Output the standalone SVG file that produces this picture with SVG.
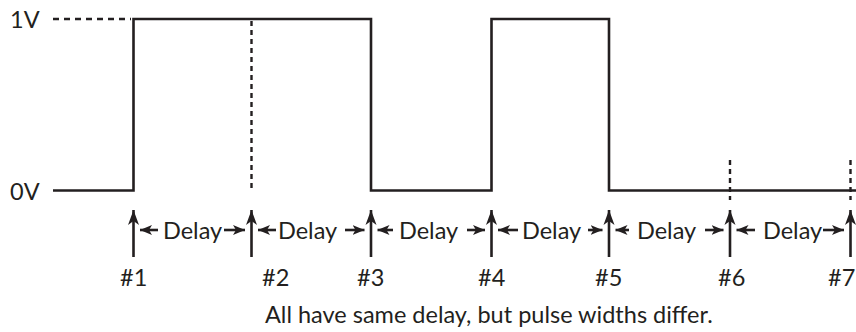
<svg xmlns="http://www.w3.org/2000/svg" width="856" height="332" viewBox="0 0 856 332">
<defs>
<style>
.t{font-family:Lato,"Open Sans","DejaVu Sans",sans-serif;font-size:23.5px;fill:#231f20}
.w{fill:none;stroke:#231f20;stroke-width:2.6}
.d{fill:none;stroke:#231f20;stroke-width:2.4;stroke-dasharray:5 4}
.a{fill:none;stroke:#231f20;stroke-width:2.6}
</style>
<marker id="ah" viewBox="-15 -6 15 12" refX="0" refY="0" markerWidth="15" markerHeight="12" markerUnits="userSpaceOnUse" orient="auto">
<path d="M0,0 L-15,-5.5 L-11,0 L-15,5.5 Z" fill="#231f20"/>
</marker>
<marker id="ahs" viewBox="-12 -5 12 10" refX="0" refY="0" markerWidth="12" markerHeight="10" markerUnits="userSpaceOnUse" orient="auto">
<path d="M0,0 L-12,-5 L-9,0 L-12,5 Z" fill="#231f20"/>
</marker>
</defs>
<rect width="856" height="332" fill="#fff"/>
<g id="axis-labels">
<text class="t" x="10" y="27.5">1V</text>
<text class="t" x="10" y="199.5">0V</text>
</g>
<g id="guides">
<path class="d" d="M53,19 H131" style="stroke-dasharray:6 5"/>
<path class="d" d="M251.5,21 V190"/>
<path class="d" d="M730,160 V200"/>
<path class="d" d="M850.5,160 V200"/>
</g>
<g id="waveform">
<path class="w" d="M53,190.5 H133.5 V19 H371 V190.5 H491.5 V19 H609 V190.5 H856"/>
</g>
<g id="connectors">
<path class="a" d="M133.5,257 V210" marker-end="url(#ah)"/>
<path class="a" d="M251.5,257 V210" marker-end="url(#ah)"/>
<path class="a" d="M371,257 V210" marker-end="url(#ah)"/>
<path class="a" d="M491.5,257 V210" marker-end="url(#ah)"/>
<path class="a" d="M609,257 V210" marker-end="url(#ah)"/>
<path class="a" d="M730,257 V210" marker-end="url(#ah)"/>
<path class="a" d="M850.5,257 V210" marker-end="url(#ah)"/>
<path class="a" d="M158,230 H140" marker-end="url(#ahs)"/>
<path class="a" d="M224,230 H245" marker-end="url(#ahs)"/>
<path class="a" d="M276,230 H258" marker-end="url(#ahs)"/>
<path class="a" d="M345,230 H364.5" marker-end="url(#ahs)"/>
<path class="a" d="M393,230 H377.5" marker-end="url(#ahs)"/>
<path class="a" d="M467,230 H485" marker-end="url(#ahs)"/>
<path class="a" d="M518,230 H498" marker-end="url(#ahs)"/>
<path class="a" d="M588,230 H602.5" marker-end="url(#ahs)"/>
<path class="a" d="M629,230 H615.5" marker-end="url(#ahs)"/>
<path class="a" d="M705,230 H723.5" marker-end="url(#ahs)"/>
<path class="a" d="M755,230 H736.5" marker-end="url(#ahs)"/>
<path class="a" d="M823,230 H844" marker-end="url(#ahs)"/>
</g>
<g id="delay-labels">
<text class="t" x="163" y="238.5">Delay</text>
<text class="t" x="278" y="238.5">Delay</text>
<text class="t" x="399" y="238.5">Delay</text>
<text class="t" x="522" y="238.5">Delay</text>
<text class="t" x="637" y="238.5">Delay</text>
<text class="t" x="763" y="238.5">Delay</text>
</g>
<g id="event-labels">
<text class="t" x="120" y="285.5">#1</text>
<text class="t" x="262" y="285.5">#2</text>
<text class="t" x="357" y="285.5">#3</text>
<text class="t" x="478" y="285.5">#4</text>
<text class="t" x="595" y="285.5">#5</text>
<text class="t" x="718" y="285.5">#6</text>
<text class="t" x="828" y="285.5">#7</text>
</g>
<g id="caption">
<text class="t" x="265" y="322.5">All have same delay, but pulse widths differ.</text>
</g>
</svg>
